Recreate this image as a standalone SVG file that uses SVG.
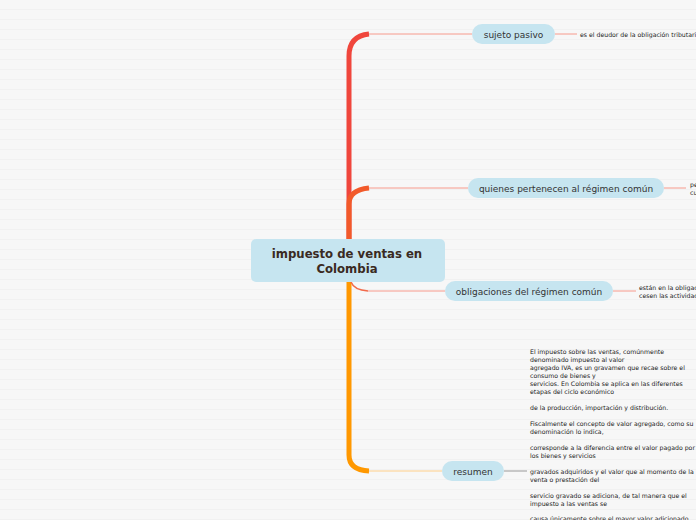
<svg xmlns="http://www.w3.org/2000/svg" width="696" height="520" viewBox="0 0 696 520">
<defs>
<pattern id="lines" x="0" y="0" width="696" height="10" patternUnits="userSpaceOnUse">
<rect width="696" height="10" fill="#f7f7f7"/>
<rect y="9" width="696" height="1" fill="#f1f1f1"/>
</pattern>
<style>
.topic{fill:#c6e5f0}
.tt{font-family:"DejaVu Sans",Verdana,sans-serif;font-size:9px;fill:#333;text-anchor:middle}
.ct{font-family:"DejaVu Sans",Verdana,sans-serif;font-size:11.7px;font-weight:bold;fill:#3a2a22;text-anchor:middle}
.leaf{font-family:"DejaVu Sans",Verdana,sans-serif;font-size:6.2px;fill:#1a1a1a}
.thin{fill:none;stroke-width:1}
.thick{fill:none;stroke-width:5}
</style>
</defs>
<rect width="696" height="520" fill="url(#lines)"/>
<g id="connectors">
<path class="thick" stroke="#f0463c" d="M349 239 V56 Q349 36 369 34"/>
<path class="thin" stroke="#f79a8c" d="M369 34 H472"/>
<path class="thick" stroke="#f25a2a" d="M349 239 V204 Q349 190 369 188"/>
<path class="thin" stroke="#f79a8c" d="M369 188 H468"/>
<path class="thick" stroke="#ff9800" d="M349 282 V455 Q349 470 369 471"/>
<path class="thin" stroke="#ffcf8a" d="M369 471 H442"/>
<path fill="none" stroke="#f26a4a" stroke-width="1.5" d="M351 282 Q354 290 368 291"/>
<path class="thin" stroke="#f79a8c" d="M368 291 H445"/>
<path class="thin" stroke="#f79a8c" d="M555 34 H577"/>
<path class="thin" stroke="#f79a8c" d="M664 188 H686"/>
<path class="thin" stroke="#f79a8c" d="M613 291 H636"/>
<path class="thin" stroke="#999" d="M504 471 H527"/>
</g>
<g id="central">
<rect class="topic" x="251" y="239" width="194" height="43" rx="5"/>
<text class="ct" x="347" y="258">impuesto de ventas en</text>
<text class="ct" x="347" y="273">Colombia</text>
</g>
<g id="sujeto">
<rect class="topic" x="472" y="24" width="83" height="20" rx="10"/>
<text class="tt" x="513.5" y="37.5">sujeto pasivo</text>
</g>
<g id="sujeto-leaf">
<text class="leaf" x="580" y="36.5">es el deudor de la obligación tributaria</text>
</g>
<g id="quienes">
<rect class="topic" x="468" y="178" width="196" height="20" rx="10"/>
<text class="tt" x="566" y="191.5">quienes pertenecen al régimen común</text>
</g>
<g id="quienes-leaf">
<text class="leaf" x="690" y="186.5">pe</text>
<text class="leaf" x="690" y="194.5">cu</text>
</g>
<g id="obligaciones">
<rect class="topic" x="445" y="281" width="168" height="20" rx="10"/>
<text class="tt" x="529" y="294.5">obligaciones del régimen común</text>
</g>
<g id="obligaciones-leaf">
<text class="leaf" x="639" y="289.5">están en la obligación</text>
<text class="leaf" x="639" y="297.5">cesen las actividades</text>
</g>
<g id="resumen">
<rect class="topic" x="442" y="461" width="62" height="20" rx="10"/>
<text class="tt" x="473" y="474.5">resumen</text>
</g>
<g id="resumen-leaf">
<text class="leaf" x="530" y="354">El impuesto sobre las ventas, comúnmente</text>
<text class="leaf" x="530" y="362">denominado impuesto al valor</text>
<text class="leaf" x="530" y="370">agregado IVA, es un gravamen que recae sobre el</text>
<text class="leaf" x="530" y="378">consumo de bienes y</text>
<text class="leaf" x="530" y="386">servicios. En Colombia se aplica en las diferentes</text>
<text class="leaf" x="530" y="394">etapas del ciclo económico</text>
<text class="leaf" x="530" y="410">de la producción, importación y distribución.</text>
<text class="leaf" x="530" y="426">Fiscalmente el concepto de valor agregado, como su</text>
<text class="leaf" x="530" y="434">denominación lo indica,</text>
<text class="leaf" x="530" y="450">corresponde a la diferencia entre el valor pagado por</text>
<text class="leaf" x="530" y="458">los bienes y servicios</text>
<text class="leaf" x="530" y="474">gravados adquiridos y el valor que al momento de la</text>
<text class="leaf" x="530" y="482">venta o prestación del</text>
<text class="leaf" x="530" y="498">servicio gravado se adiciona, de tal manera que el</text>
<text class="leaf" x="530" y="506">impuesto a las ventas se</text>
<text class="leaf" x="530" y="521">causa únicamente sobre el mayor valor adicionado</text>
</g>
</svg>
